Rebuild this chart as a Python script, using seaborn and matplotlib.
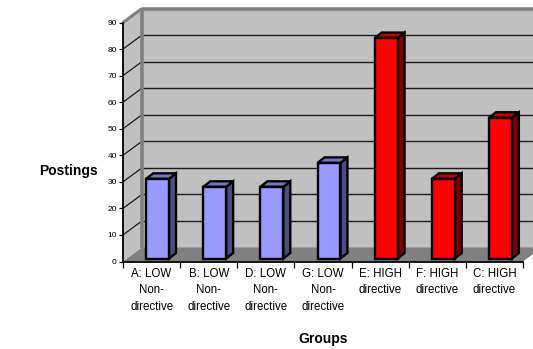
import matplotlib
matplotlib.use("Agg")
import matplotlib.pyplot as plt
import seaborn as sns
import pandas as pd
from matplotlib.patches import Polygon
from matplotlib.lines import Line2D
from matplotlib.transforms import offset_copy

# ---- data -------------------------------------------------------------
categories = [
    "A: LOW\nNon-\ndirective",
    "B: LOW\nNon-\ndirective",
    "D: LOW\nNon-\ndirective",
    "G: LOW\nNon-\ndirective",
    "E: HIGH\ndirective",
    "F: HIGH\ndirective",
    "C: HIGH\ndirective",
]
postings = [30, 27, 27, 36, 83, 30, 53]
levels = ["LOW", "LOW", "LOW", "LOW", "HIGH", "HIGH", "HIGH"]
y_ticks = [0, 10, 20, 30, 40, 50, 60, 70, 80, 90]

# ---- styling ----------------------------------------------------------
face = {"LOW": "#9999FF", "HIGH": "#FF0000"}
top_col = {"LOW": "#7676C6", "HIGH": "#C40000"}
side_col = {"LOW": "#4C4C86", "HIGH": "#7F0000"}
WALL = "#C0C0C0"
FLOOR = "#808080"
EDGE = "#808080"

DEPTH = (19, 14)      # pixel offset of the back wall
BAR_FRONT = (6, 3)    # pixel offset of the bar front faces
BAR_DEPTH = (7, 5.5)  # pixel depth of each column

sns.set_theme(style="white")
plt.rcParams["font.family"] = ["Liberation Sans", "DejaVu Sans"]
plt.rcParams["text.color"] = "black"

W, H = 533, 349
fig = plt.figure(figsize=(W / 100, H / 100), dpi=100)
fig.patch.set_facecolor("white")
ax = fig.add_axes([123 / W, 1 - 261.5 / H, 400 / W, 239 / H])
ax.set_xlim(-0.5, 6.5)
ax.set_ylim(0, 90)
ax.patch.set_visible(False)

df = pd.DataFrame({"group": categories, "postings": postings, "level": levels})
sns.barplot(data=df, x="group", y="postings", hue="group",
            palette=[face[l] for l in levels], width=0.4, legend=False,
            edgecolor="black", linewidth=1.7, saturation=1, ax=ax, zorder=5)
ax.set_xlim(-0.5, 6.5)
ax.set_ylim(0, 90)

to_fig = fig.transFigure.inverted()


def pt(x, y, dx=0.0, dy=0.0):
    d = ax.transData.transform((x, y))
    return to_fig.transform((d[0] + dx, d[1] + dy))


def poly(points, color, z, ec="none", lw=0.0):
    p = Polygon(points, closed=True, facecolor=color, edgecolor=ec, lw=lw,
                transform=fig.transFigure, zorder=z, clip_on=False,
                joinstyle="miter")
    ax.add_patch(p)


def line(a, b, color, lw, z):
    ax.add_line(Line2D([a[0], b[0]], [a[1], b[1]], color=color, lw=lw,
                       transform=fig.transFigure, zorder=z, clip_on=False,
                       solid_capstyle="butt"))


x0, x1 = -0.5, 6.5
dx, dy = DEPTH

# back wall
poly([pt(x0, 0, dx, dy), pt(x1, 0, dx, dy), pt(x1, 90, dx, dy), pt(x0, 90, dx, dy)], WALL, 0.1)
# left side wall
poly([pt(x0, 0), pt(x0, 0, dx, dy), pt(x0, 90, dx, dy), pt(x0, 90)], WALL, 0.2)
# gridlines on back wall and side wall
for v in y_ticks[1:-1]:
    line(pt(x0, v, dx, dy), pt(x1, v, dx, dy), "#1a1a1a", 1.0, 0.3)
    line(pt(x0, v), pt(x0, v, dx, dy), "#1a1a1a", 0.9, 0.3)
# wall rims
line(pt(x0, 90), pt(x0, 90, dx, dy), EDGE, 2.2, 0.4)
line(pt(x0, 90, dx, dy), pt(x1, 90, dx, dy), EDGE, 2.6, 0.4)
line(pt(x0, 0, dx, dy), pt(x0, 90, dx, dy), EDGE, 2.6, 0.4)
# floor
poly([pt(x0, 0), pt(x1, 0), pt(x1, 0, dx, dy), pt(x0, 0, dx, dy)], FLOOR, 0.5)

# 3-D columns: shift the front faces back a little and add top/side faces
fx, fy = BAR_FRONT
bx, by = BAR_DEPTH
front_tr = offset_copy(ax.transData, fig=fig, x=fx, y=fy, units="dots")
for bar, lvl in zip(ax.patches[:len(postings)], levels):
    bar.set_transform(front_tr)
    bar.set_joinstyle("miter")
    xl = bar.get_x()
    xr = xl + bar.get_width()
    h = bar.get_height()
    poly([pt(xr, 0, fx, fy), pt(xr, h, fx, fy), pt(xr, h, fx + bx, fy + by),
          pt(xr, 0, fx + bx, fy + by)], side_col[lvl], 4, ec="black", lw=1.7)
    poly([pt(xl, h, fx, fy), pt(xr, h, fx, fy), pt(xr, h, fx + bx, fy + by),
          pt(xl, h, fx + bx, fy + by)], top_col[lvl], 4, ec="black", lw=1.7)

# axes
for s in ["top", "right"]:
    ax.spines[s].set_visible(False)
for s in ["left", "bottom"]:
    ax.spines[s].set_color("black")
    ax.spines[s].set_linewidth(1.3)
    ax.spines[s].set_zorder(6)

ax.set_yticks(y_ticks)
ax.set_yticklabels([str(v) for v in y_ticks])
ax.tick_params(axis="y", left=True, length=3, width=0.9, color="black",
               labelsize=6, labelcolor="black", pad=1.5)
ax.set_xticks(range(len(categories)))
ax.set_xticklabels(categories, fontsize=8.3, linespacing=1.45)
ax.tick_params(axis="x", which="major", bottom=False, length=0, pad=5,
               labelcolor="black")
ax.set_xticks([i - 0.5 for i in range(len(categories) + 1)], minor=True)
ax.tick_params(axis="x", which="minor", bottom=True, length=4, width=0.9, color="black")
ax.set_xlabel("")
ax.set_ylabel("")
ax.grid(False)

fig.text(68 / W, 1 - 171 / H, "Postings", fontsize=10, fontweight="bold",
         ha="center", va="center", color="black")
fig.text(323 / W, 1 - 339 / H, "Groups", fontsize=10, fontweight="bold",
         ha="center", va="center", color="black")

fig.savefig("out.png", dpi=100)
